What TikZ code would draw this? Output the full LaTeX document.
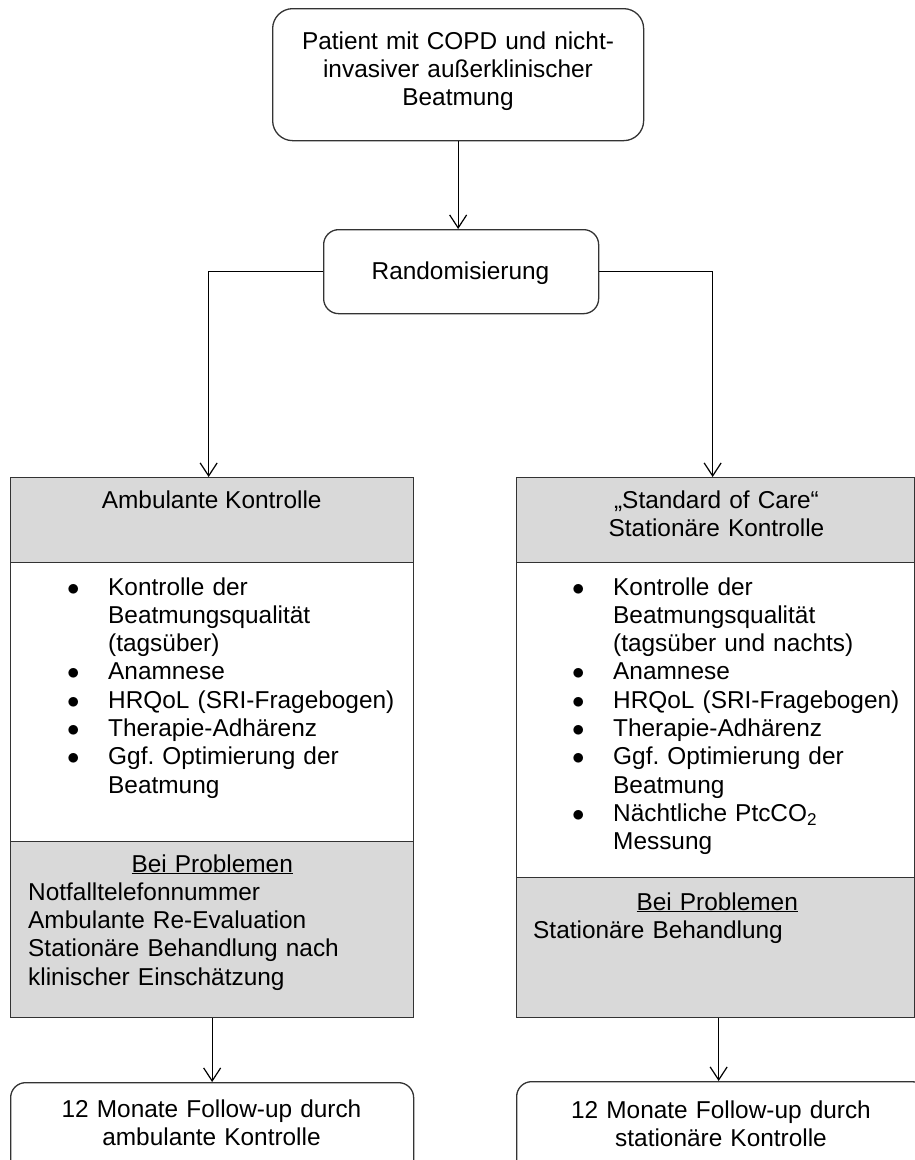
\documentclass[tikz,border=0pt]{standalone}
\usepackage{fontspec}
\setmainfont{Liberation Sans}
\usetikzlibrary{arrows.meta}
\newcommand{\bulitem}{\leavevmode\llap{\makebox[41pt][l]{$\bullet$}}}
\begin{document}
\frenchspacing
\begin{tikzpicture}[x=1pt,y=-1pt,
  every node/.style={font=\fontsize{24.4pt}{28.3pt}\selectfont},
  box/.style={draw=black!80, line width=1.3pt, inner sep=0pt, anchor=north west},
  rbox/.style={box, rounded corners=20pt},
  fbox/.style={box, rounded corners=15pt},
  graybox/.style={box, fill=black!15},
  txt/.style={inner sep=0pt, align=left, text width=#1},
  ctxt/.style={inner sep=0pt, align=center, text width=#1},
  arr/.style={line width=1.2pt, -{Straight Barb[length=13pt,width=17pt,line width=1.2pt]}}
]
\useasboundingbox (0,0) rectangle (915,1160);
\clip (0,0) rectangle (915,1160);

% top boxes
\node[rbox, minimum width=371pt, minimum height=132pt] (top) at (272,8) {};
\node[anchor=base, ctxt=360pt] (topT) at (458,49)
  {Patient mit COPD und nicht-\\invasiver außerklinischer\\Beatmung};
\node[fbox, minimum width=275pt, minimum height=84pt] (rand) at (323,229) {};
\node[anchor=base, inner sep=0pt] (randT) at (460.5,279) {Randomisierung};

% left column
\node[graybox, minimum width=403pt, minimum height=85pt] (Lhead) at (10,477) {};
\node[box, minimum width=403pt, minimum height=279pt] (Lbody) at (10,562) {};
\node[graybox, minimum width=403pt, minimum height=176pt] (Lprob) at (10,841) {};
\node[fbox, minimum width=403pt, minimum height=100pt] (Lfin) at (10,1082) {};

% right column
\node[graybox, minimum width=398pt, minimum height=85pt] (Rhead) at (516,477) {};
\node[box, minimum width=398pt, minimum height=315pt] (Rbody) at (516,562) {};
\node[graybox, minimum width=398pt, minimum height=140pt] (Rprob) at (516,877) {};
\node[fbox, minimum width=410pt, minimum height=100pt] (Rfin) at (516,1081) {};

% texts
\node[anchor=base, inner sep=0pt] (LheadT) at (211.7,508) {Ambulante Kontrolle};
\node[anchor=base, ctxt=390pt] (RheadT) at (716.5,508) {„Standard of Care“\\Stationäre Kontrolle};

\node[anchor=base west, txt=300pt] (Llist) at (108,595)
  {\bulitem Kontrolle der\\Beatmungsqualität\\(tagsüber)\\\bulitem Anamnese\\\bulitem HRQoL (SRI-Fragebogen)\\\bulitem Therapie-Adhärenz\\\bulitem Ggf. Optimierung der\\Beatmung};
\node[anchor=base west, txt=300pt] (Rlist) at (613,595)
  {\bulitem Kontrolle der\\Beatmungsqualität\\(tagsüber und nachts)\\\bulitem Anamnese\\\bulitem HRQoL (SRI-Fragebogen)\\\bulitem Therapie-Adhärenz\\\bulitem Ggf. Optimierung der\\Beatmung\\\bulitem Nächtliche PtcCO\textsubscript{2}\\Messung};

\node[anchor=base west, txt=368pt] (Lprobtext) at (28,872)
  {\makebox[368pt]{\underline{Bei Problemen}}\\Notfalltelefonnummer\\Ambulante Re-Evaluation\\Stationäre Behandlung nach\\klinischer Einschätzung};
\node[anchor=base west, txt=368pt] (Rprobtext) at (533,910)
  {\makebox[368pt]{\underline{Bei Problemen}}\\Stationäre Behandlung};

\node[anchor=base, ctxt=400pt] (LfinT) at (211.5,1117) {12 Monate Follow-up durch\\ambulante Kontrolle};
\node[anchor=base, ctxt=400pt] (RfinT) at (721,1118) {12 Monate Follow-up durch\\stationäre Kontrolle};

% connectors
\draw[arr] (top.south) -- (top.south |- rand.north);
\draw[arr] (rand.west) -| ([xshift=-3.5pt]Lhead.north);
\draw[arr] (rand.east) -| ([xshift=-3pt]Rhead.north);
\draw[arr] (Lprob.south) -- (Lprob.south |- Lfin.north);
\draw[arr] ([xshift=3pt]Rprob.south) -- ([xshift=3pt]Rprob.south |- Rfin.north);
\end{tikzpicture}
\end{document}
